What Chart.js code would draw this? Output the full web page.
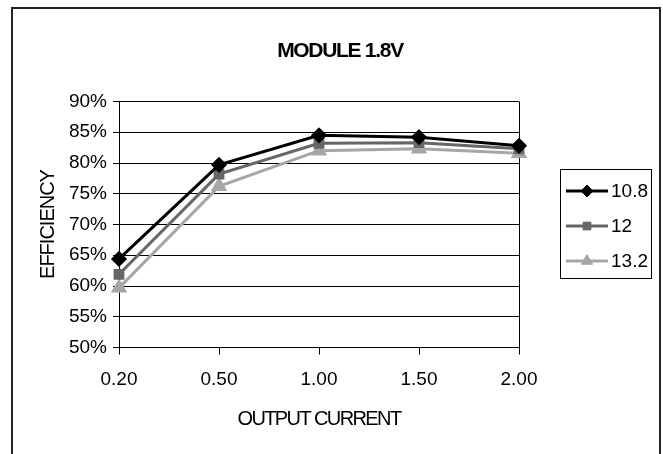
<!DOCTYPE html>
<html>
<head>
<meta charset="utf-8">
<script src="https://cdn.jsdelivr.net/npm/chart.js@4.4.0/dist/chart.umd.min.js"></script>
<style>
  html, body { margin: 0; padding: 0; background: #fff; }
  canvas { display: block; }
</style>
</head>
<body>
<canvas id="chart" width="663" height="454"></canvas>
<script>
// chart values
const currents = ["0.20", "0.50", "1.00", "1.50", "2.00"];
const eff108 = [64.4, 79.7, 84.5, 84.2, 82.8];
const eff12 = [61.9, 78.2, 83.2, 83.3, 82.3];
const eff132 = [59.7, 76.2, 82.0, 82.3, 81.6];
const seriesNames = ["10.8", "12", "13.2"];
const yTicks = [50, 55, 60, 65, 70, 75, 80, 85, 90];
const chartTitle = "MODULE 1.8V";
const xTitle = "OUTPUT CURRENT";
const yTitle = "EFFICIENCY";

const FONT = "'Liberation Sans', Arial, sans-serif";

// outer frame + right edge of the plot
const framePlugin = {
    id: "frame",
    beforeDatasetsDraw(chart) {
        const { ctx, chartArea } = chart;
        ctx.save();
        ctx.strokeStyle = "#000";
        ctx.lineWidth = 1;
        ctx.beginPath();
        ctx.moveTo(chartArea.right + 0.5, chartArea.top);
        ctx.lineTo(chartArea.right + 0.5, chartArea.bottom);
        ctx.stroke();
        ctx.restore();
    },
    afterDraw(chart) {
        const { ctx } = chart;
        ctx.save();
        ctx.strokeStyle = "#222";
        ctx.lineWidth = 2;
        ctx.strokeRect(12, 8, 648, 470);
        ctx.restore();
    }
};

// titles drawn with tight letter spacing (condensed look of the original)
const titlesPlugin = {
    id: "titles",
    afterDraw(chart) {
        const { ctx, chartArea } = chart;
        ctx.save();
        ctx.fillStyle = "#000";
        ctx.textAlign = "center";
        ctx.textBaseline = "middle";

        ctx.font = "bold 21px " + FONT;
        ctx.letterSpacing = "-1.3px";
        ctx.fillText(chartTitle, 340, 51.5);

        ctx.font = "20px " + FONT;
        ctx.letterSpacing = "-1.6px";
        ctx.fillText(xTitle, (chartArea.left + chartArea.right) / 2, 419.5);

        ctx.letterSpacing = "-1px";
        ctx.translate(48.5, (chartArea.top + chartArea.bottom) / 2);
        ctx.rotate(-Math.PI / 2);
        ctx.fillText(yTitle, 0, 0);
        ctx.restore();
    }
};

// legend box on the right, line + marker per series
const legendPlugin = {
    id: "boxLegend",
    afterDraw(chart) {
        const { ctx, chartArea } = chart;
        const x0 = chartArea.right + 41, y0 = 169, w = 91, h = 109;
        ctx.save();
        ctx.strokeStyle = "#000";
        ctx.lineWidth = 1;
        ctx.strokeRect(x0 + 0.5, y0 + 0.5, w, h);
        ctx.font = "19px " + FONT;
        ctx.textBaseline = "middle";
        chart.data.datasets.forEach((ds, i) => {
            const cy = y0 + 22 + i * 35;
            ctx.strokeStyle = ds.borderColor;
            ctx.fillStyle = ds.borderColor;
            ctx.lineWidth = 3;
            ctx.beginPath();
            ctx.moveTo(x0 + 6, cy);
            ctx.lineTo(x0 + 48, cy);
            ctx.stroke();
            ctx.lineWidth = 1;
            Chart.helpers.drawPoint(ctx, {
                pointStyle: ds.pointStyle,
                radius: ds.pointRadius,
                borderWidth: 1,
                rotation: 0
            }, x0 + 27, cy);
            ctx.fillStyle = "#000";
            ctx.fillText(seriesNames[i], x0 + 51, cy + 1);
        });
        ctx.restore();
    }
};

function makeSet(label, data, color, style, r) {
    return {
        label: label,
        data: data,
        borderColor: color,
        backgroundColor: color,
        pointBackgroundColor: color,
        pointBorderColor: color,
        borderWidth: 3,
        pointStyle: style,
        pointRadius: r,
        pointHoverRadius: r,
        tension: 0
    };
}

new Chart(document.getElementById("chart"), {
    type: "line",
    data: {
        labels: currents,
        datasets: [
            makeSet(seriesNames[0], eff108, "#000000", "rectRot", 6),
            makeSet(seriesNames[1], eff12, "#666666", "rect", 5.5),
            makeSet(seriesNames[2], eff132, "#a6a6a6", "triangle", 6.5)
        ]
    },
    options: {
        responsive: false,
        animation: false,
        layout: { padding: { left: 17, right: 0, top: 101.5, bottom: 0 } },
        plugins: {
            legend: { display: false },
            tooltip: { enabled: false },
            title: { display: false }
        },
        scales: {
            x: {
                type: "category",
                offset: false,
                grid: { drawOnChartArea: false, drawTicks: true, tickLength: 7, color: "#000" },
                border: { color: "#000", width: 1 },
                ticks: { color: "#000", padding: 14, maxRotation: 0, font: { family: FONT, size: 19 } },
                afterFit(s) { s.height = 106.5; }
            },
            y: {
                min: 50,
                max: 90,
                afterBuildTicks(s) { s.ticks = yTicks.map(v => ({ value: v })); },
                grid: { color: "#000", tickLength: 6 },
                border: { color: "#000", width: 1 },
                ticks: {
                    color: "#000",
                    padding: 6,
                    font: { family: FONT, size: 19 },
                    callback: v => v + "%"
                },
                afterFit(s) { s.width = 102; }
            },
            side: {
                position: "right",
                display: true,
                grid: { display: false },
                border: { display: false },
                ticks: { display: false },
                afterFit(s) { s.width = 144; }
            }
        }
    },
    plugins: [framePlugin, titlesPlugin, legendPlugin]
});
</script>
</body>
</html>
